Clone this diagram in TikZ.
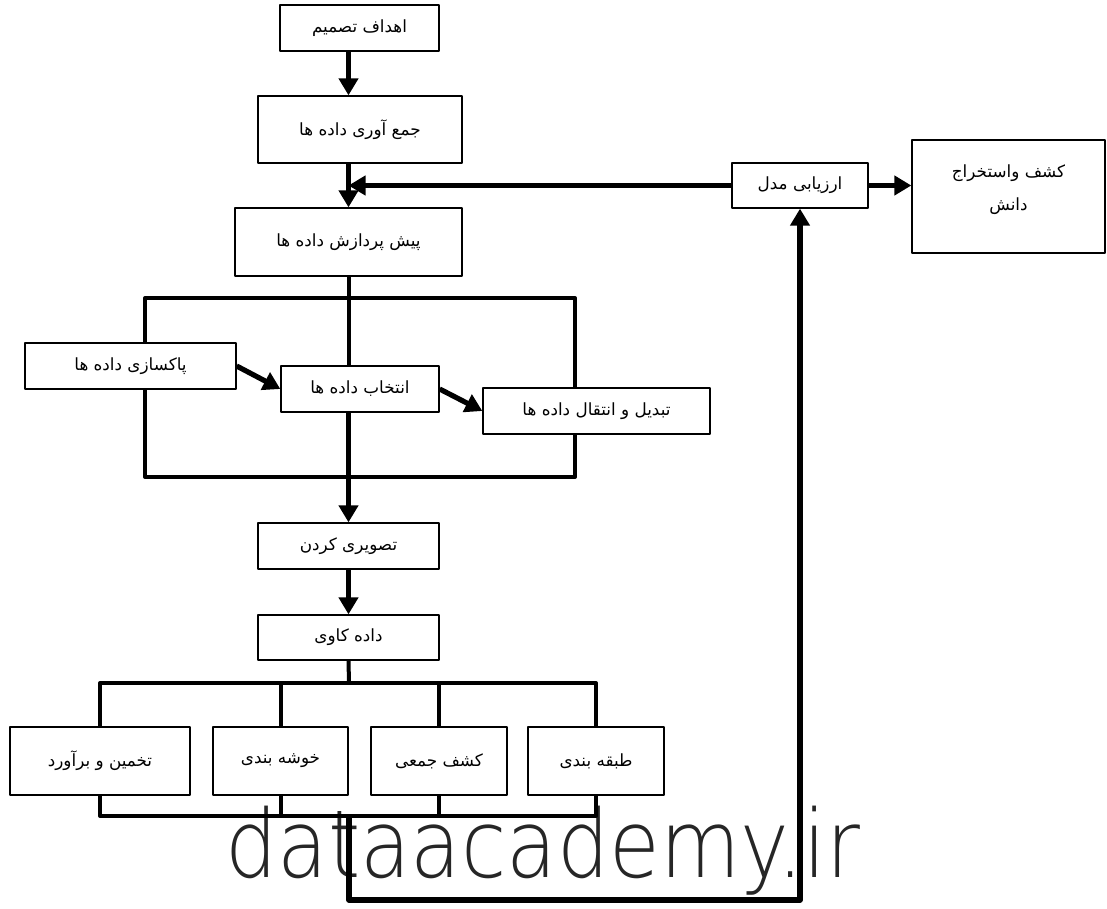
\documentclass[tikz,border=0pt]{standalone}
\usepackage{fontspec}
\newfontfamily\arabicfont[Script=Arabic]{DejaVu Sans}
\newfontfamily\markfont{DejaVu Sans ExtraLight}
\TeXXeTstate=1
\usetikzlibrary{arrows.meta}
\newcommand{\fa}[1]{{\arabicfont\beginR #1\endR}}
\tikzset{
	stepbox/.style={draw, line width=0.65pt, fill=white, inner sep=0pt, font=\fontsize{8.4}{10}\selectfont},
	flow/.style={line width=2.6pt, ->},
	bar/.style={line width=2pt}
}
\begin{document}
\begin{tikzpicture}[x=0.5pt, y=-0.5pt, line join=round, >={Triangle[length=8.5pt,width=9.5pt]}]
	\useasboundingbox (0,0) rectangle (1107,909);
	% watermark
	\node[font=\markfont\fontsize{47}{47}\selectfont, text=black!85, anchor=base west, inner sep=0pt] (mark) at (225,877) {\scalebox{0.876}[1]{dataacademy.ir}};
	% preprocessing frame
	\draw[bar] (145,298) rectangle (575,477);
	% boxes
	\node[stepbox, minimum width=79.5pt, minimum height=23pt] (goal) at (359.5,28) {\fa{اهداف تصمیم}};
	\node[stepbox, minimum width=102pt, minimum height=33.5pt] (collect) at (360,129.5) {\fa{جمع آوری داده ها}};
	\node[stepbox, minimum width=113.5pt, minimum height=34pt] (prep) at (348.5,242) {\fa{پیش پردازش داده ها}};
	\node[stepbox, minimum width=68pt, minimum height=22.5pt] (eval) at (800,185.5) {\fa{ارزیابی مدل}};
	\node[stepbox, minimum width=96.5pt, minimum height=56.5pt, align=center, font=\fontsize{8.4}{16.5}\selectfont] (know) at (1008.5,196.5) {\fa{کشف واستخراج}\\\fa{دانش}\\[-7.5pt]\mbox{}};
	\node[stepbox, minimum width=105.5pt, minimum height=23pt] (clean) at (130.5,366) {\fa{پاکسازی داده ها}};
	\node[stepbox, minimum width=79pt, minimum height=23pt] (sel) at (360,389) {\fa{انتخاب داده ها}};
	\node[stepbox, minimum width=113.5pt, minimum height=23pt] (trans) at (596.5,411) {\fa{تبدیل و انتقال داده ها}};
	\node[stepbox, minimum width=90.5pt, minimum height=23pt] (viz) at (348.5,546) {\fa{تصویری کردن}};
	\node[stepbox, minimum width=90.5pt, minimum height=22.5pt] (dm) at (348.5,637.5) {\fa{داده کاوی}};
	\node[stepbox, minimum width=90pt, minimum height=34pt] (est) at (100,761) {\fa{تخمین و برآورد}};
	\node[stepbox, minimum width=67.5pt, minimum height=34pt] (clu) at (280.5,761) {\fa{خوشه بندی}};
	\node[stepbox, minimum width=68pt, minimum height=34pt] (ass) at (439,761) {\fa{کشف جمعی}};
	\node[stepbox, minimum width=68pt, minimum height=34pt] (cls) at (596,761) {\fa{طبقه بندی}};
	\coordinate (tb) at (349,683);
	\coordinate (bb) at (349,816);
	% main flow
	\draw[flow] (goal.south -| prep.south) -- (collect.north -| prep.south);
	\draw[flow] (collect.south -| prep.south) -- (prep.north);
	\draw[flow] (eval.west) -- (eval.west -| prep.north);
	\draw[flow] (eval.east) -- (eval.east -| know.west);
	\draw[bar] (prep.south) -- (sel.north -| prep.south);
	\draw[flow] (sel.south -| viz.north) -- (viz.north);
	\draw[flow] (clean.east) -- (sel.west);
	\draw[flow] (sel.east) -- (trans.west);
	\draw[flow] (viz.south) -- (dm.north);
	% mining tasks
	\draw[bar] (dm.south) -- (tb);
	\draw[bar] (est.north) |- (tb) -| (cls.north);
	\draw[bar] (clu.north) -- (clu.north |- tb);
	\draw[bar] (ass.north) -- (ass.north |- tb);
	\draw[bar] (est.south) |- (bb) -| (cls.south);
	\draw[bar] (clu.south) -- (clu.south |- bb);
	\draw[bar] (ass.south) -- (ass.south |- bb);
	% feedback loop
	\draw[flow] (bb) -- ++(0,84) -| (eval.south);
\end{tikzpicture}
\end{document}
